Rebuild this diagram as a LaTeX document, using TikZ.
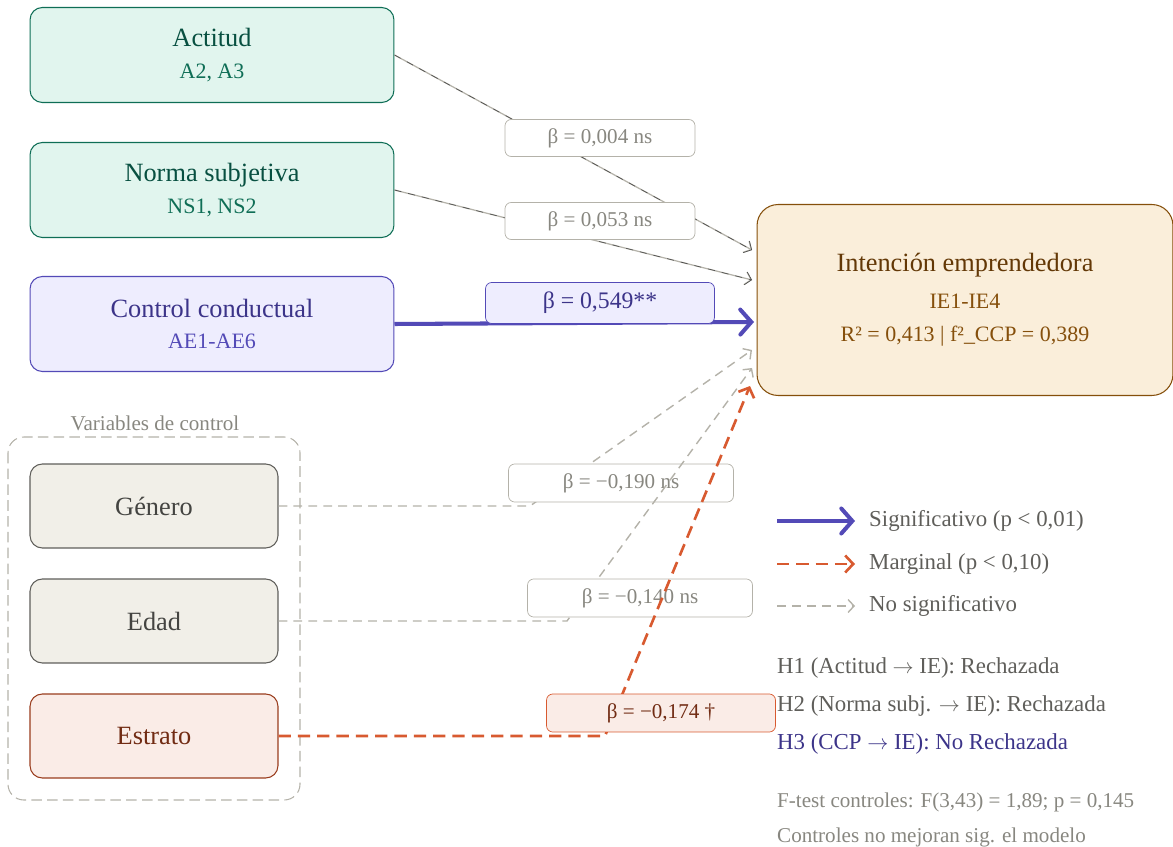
\documentclass[tikz,border=0pt]{standalone}
\usepackage{fontspec}
\setmainfont{Liberation Serif}
\usetikzlibrary{arrows.meta,positioning,backgrounds}
\definecolor{tpbfill}{HTML}{E1F5EE}
\definecolor{tpbline}{HTML}{0F6E56}
\definecolor{tpbtext}{HTML}{085041}
\definecolor{ccpfill}{HTML}{EEEDFE}
\definecolor{ccpline}{HTML}{534AB7}
\definecolor{ccptext}{HTML}{3C3489}
\definecolor{iefill}{HTML}{FAEEDA}
\definecolor{ieline}{HTML}{854F0B}
\definecolor{ietext}{HTML}{633806}
\definecolor{ctrlfill}{HTML}{F1EFE8}
\definecolor{ctrlline}{HTML}{5F5E5A}
\definecolor{ctrltext}{HTML}{444441}
\definecolor{estfill}{HTML}{FAECE7}
\definecolor{estline}{HTML}{993C1D}
\definecolor{esttext}{HTML}{712B13}
\definecolor{margline}{HTML}{D85A30}
\definecolor{nsline}{HTML}{B4B2A9}
\definecolor{nstext}{HTML}{888780}
\newcommand{\subtxt}[1]{{\fontsize{12.5}{15}\selectfont #1}}
\newcommand{\arr}{ $\rightarrow$ }

\begin{document}
\begin{tikzpicture}[x=0.02cm, y=-0.02cm,
 font=\fontsize{15}{18}\selectfont,
 box/.style={draw, rounded corners=7pt, align=center, line width=0.6pt, minimum width=7.28cm, minimum height=1.9cm},
 tpb/.style={box, fill=tpbfill, draw=tpbline, text=tpbtext},
 ccp/.style={box, fill=ccpfill, draw=ccpline, text=ccptext},
 ctrl/.style={box, minimum width=4.96cm, minimum height=1.68cm, fill=ctrlfill, draw=ctrlline, text=ctrltext},
 beta/.style={draw=nsline, fill=white, rounded corners=3.5pt, text=nstext, minimum width=3.8cm, minimum height=0.74cm, inner sep=0pt, font=\fontsize{12}{14}\selectfont},
 legtext/.style={anchor=west, text=ctrlline, font=\fontsize{13}{15}\selectfont},
 sigline/.style={-{Straight Barb[length=2.2mm, width=5mm, line cap=round]}, line width=2.3pt, draw=ccpline},
 margline/.style={-{Straight Barb[length=1.6mm, width=3.4mm]}, line width=1.5pt, draw=margline, dash pattern=on 7pt off 4pt},
 nsline/.style={-{Straight Barb[length=1.2mm, width=2.6mm]}, line width=0.8pt, draw=nsline, dash pattern=on 5pt off 3.5pt},
 nsthin/.style={-{Straight Barb[length=1.2mm, width=2.6mm]}, line width=0.7pt, draw=nsline,
   postaction={draw=black!70, line width=0.35pt, dash pattern=on 4pt off 4pt}}]
\useasboundingbox (0,0) rectangle (1173,847);

% constructos
\node[tpb] (act) at (212,55) {Actitud\\[0pt]\subtxt{\textcolor{tpbline}{A2, A3}}};
\node[tpb] (ns) at (212,190) {Norma subjetiva\\[0pt]\subtxt{\textcolor{tpbline}{NS1, NS2}}};
\node[ccp] (ccp) at (212,324) {Control conductual\\[0pt]\subtxt{\textcolor{ccpline}{AE1-AE6}}};
\node[box, fill=iefill, draw=ieline, text=ietext, rounded corners=12pt, minimum width=8.32cm, minimum height=3.82cm] (ie) at (965,300)
 {Intención emprendedora\\[3pt]\subtxt{\textcolor{ieline}{IE1-IE4}}\\[1pt]\subtxt{\textcolor{ieline}{R² = 0,413 | f²\_CCP = 0,389}}};

% controles
\node[ctrl] (gen) at (154,506) {Género};
\node[ctrl] (edad) at (154,621) {Edad};
\node[ctrl, fill=estfill, draw=estline, text=esttext] (estr) at (154,736) {Estrato};
\node[text=nstext, font=\fontsize{12}{14}\selectfont] (ctrltit) at (155,423) {Variables de control};
\begin{scope}[on background layer]
\draw[nsline, dash pattern=on 6pt off 3pt, line width=0.6pt, rounded corners=9pt] (8,437) rectangle (300,800);
\end{scope}

% puntos de llegada y quiebres
\coordinate (ieA) at (752,250);
\coordinate (ieN) at (752,280);
\coordinate (ieC) at (754,322);
\coordinate (ieG) at (752,350);
\coordinate (ieE) at (752,368);
\coordinate (ieS) at (750,386);
\coordinate (kG) at (530,506);
\coordinate (kE) at (567,621);
\coordinate (kS) at (605,736);

% trayectorias con coeficientes
\draw[nsthin] (act.east) -- (ieA);
\node[beta] (bA) at (600,138) {β = 0,004 ns};
\draw[nsthin] (ns.east) -- (ieN);
\node[beta] (bN) at (600,221) {β = 0,053 ns};
\draw[sigline] (ccp.east) -- (ieC);
\node[beta, fill=ccpfill, draw=ccpline, text=ccptext, minimum width=4.58cm, minimum height=0.82cm, font=\fontsize{13.5}{16}\selectfont] (bC) at (600,303) {β = 0,549**};
\draw[nsline] (gen.east) -- (kG) -- (ieG);
\node[beta, minimum width=4.5cm, minimum height=0.76cm] (bG) at (621,483) {β = −0,190 ns};
\draw[nsline] (edad.east) -- (kE) -- (ieE);
\node[beta, minimum width=4.5cm, minimum height=0.76cm] (bE) at (640,598) {β = −0,140 ns};
\draw[margline] (estr.east) -- (kS) -- (ieS);
\node[beta, fill=estfill, draw=margline, text=esttext, minimum width=4.58cm, minimum height=0.76cm] (bS) at (661,713) {β = −0,174 †};

% leyenda
\coordinate (l1a) at (777,521); \coordinate (l1b) at (855,521);
\coordinate (l2a) at (777,564); \coordinate (l2b) at (855,564);
\coordinate (l3a) at (777,606); \coordinate (l3b) at (855,606);
\draw[sigline] (l1a) -- (l1b);
\draw[margline] (l2a) -- (l2b);
\draw[nsline] (l3a) -- (l3b);
\node[legtext] (t1) at (863,521) {Significativo (p < 0,01)};
\node[legtext] (t2) at (863,564) {Marginal (p < 0,10)};
\node[legtext] (t3) at (863,606) {No significativo};

% hipotesis
\node[legtext] (h1) at (771,668) {H1 (Actitud\arr IE): Rechazada};
\node[legtext] (h2) at (771,706) {H2 (Norma subj.\arr IE): Rechazada};
\node[legtext, text=ccptext] (h3) at (771,744) {H3 (CCP\arr IE): No Rechazada};
\node[legtext, text=nstext, font=\fontsize{12}{14}\selectfont] (f1) at (771,802) {F-test controles: F(3,43) = 1,89; p = 0,145};
\node[legtext, text=nstext, font=\fontsize{12}{14}\selectfont] (f2) at (771,837) {Controles no mejoran sig. el modelo};
\end{tikzpicture}
\end{document}
